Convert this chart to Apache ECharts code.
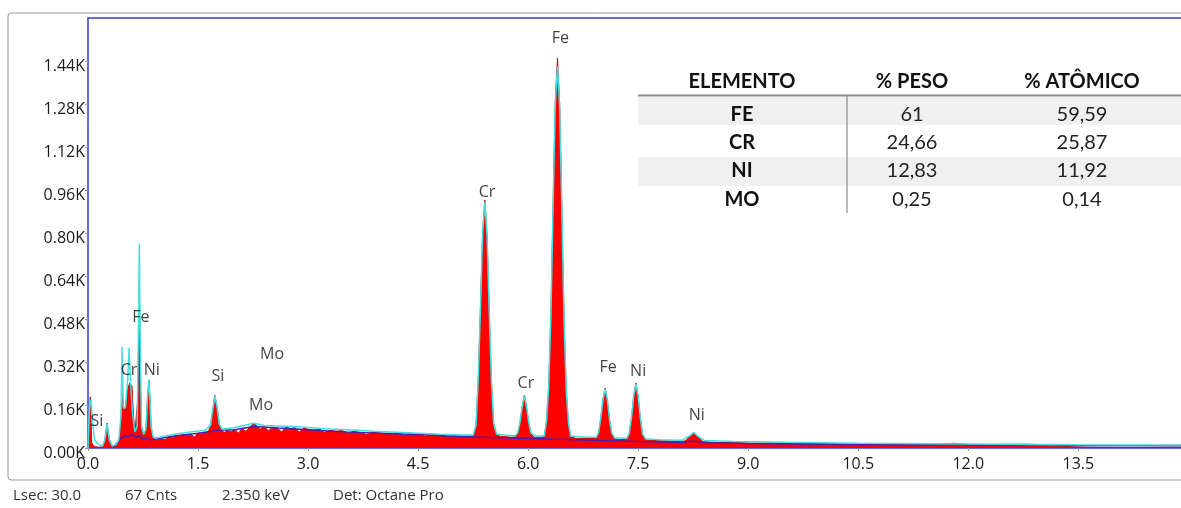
<!DOCTYPE html>
<html>
<head>
<meta charset="utf-8">
<script src="https://cdn.jsdelivr.net/npm/echarts@6/dist/echarts.min.js"></script>
<style>
  html, body { margin: 0; padding: 0; background: #fff; }
  #eds { width: 1181px; height: 508px; }
</style>
</head>
<body>
<div id="eds"></div>
<script>
// espectro EDS (keV, contagens)
var spectrum = [
  [0.00, 0], [0.02, 60], [0.03, 190], [0.04, 120], [0.05, 20], [0.07, 10], [0.10, 5], [0.15, 3],
  [0.20, 4], [0.23, 30], [0.26, 93], [0.29, 35], [0.32, 6], [0.36, 8], [0.40, 20], [0.43, 40],
  [0.45, 100], [0.465, 227], [0.48, 150], [0.51, 140], [0.54, 220], [0.57, 242], [0.60, 230],
  [0.62, 120], [0.64, 60], [0.66, 60], [0.685, 200], [0.70, 620], [0.715, 200], [0.73, 70],
  [0.76, 48], [0.79, 70], [0.81, 180], [0.83, 253], [0.845, 180], [0.86, 80], [0.89, 35], [0.93, 28],
  [1.00, 36], [1.05, 30], [1.10, 42], [1.15, 38], [1.20, 47], [1.25, 44], [1.30, 50], [1.35, 46],
  [1.40, 52], [1.45, 40], [1.50, 56], [1.55, 52], [1.60, 59], [1.64, 62], [1.67, 80], [1.70, 140],
  [1.73, 197], [1.76, 150], [1.79, 85], [1.82, 64], [1.86, 58], [1.90, 66], [1.95, 60], [2.00, 70],
  [2.05, 55], [2.10, 72], [2.15, 62], [2.20, 76], [2.26, 92], [2.30, 84], [2.35, 70], [2.40, 80],
  [2.46, 64], [2.52, 78], [2.58, 74], [2.64, 60], [2.70, 78], [2.76, 72], [2.82, 76], [2.88, 60],
  [2.94, 73], [3.00, 70], [3.08, 66], [3.15, 72], [3.22, 58], [3.30, 66], [3.38, 62], [3.46, 65],
  [3.55, 56], [3.62, 62], [3.70, 58], [3.80, 50], [3.90, 58], [4.00, 55], [4.10, 52], [4.20, 56],
  [4.30, 48], [4.40, 53], [4.50, 50], [4.60, 44], [4.70, 50], [4.80, 47], [4.90, 42], [5.00, 46],
  [5.10, 44], [5.20, 45], [5.26, 46], [5.29, 85], [5.32, 255], [5.35, 520], [5.38, 800], [5.41, 923],
  [5.44, 790], [5.47, 505], [5.50, 245], [5.53, 90], [5.56, 50], [5.62, 44], [5.70, 42], [5.78, 40],
  [5.83, 42], [5.86, 55], [5.89, 95], [5.92, 155], [5.95, 197], [5.98, 150], [6.01, 90], [6.04, 52],
  [6.08, 40], [6.15, 39], [6.22, 42], [6.25, 100], [6.28, 225], [6.31, 490], [6.34, 900], [6.37, 1290],
  [6.40, 1451], [6.43, 1280], [6.46, 880], [6.49, 470], [6.52, 210], [6.55, 90], [6.58, 42], [6.65, 36],
  [6.80, 35], [6.93, 36], [6.96, 55], [6.99, 110], [7.02, 180], [7.05, 223], [7.08, 178], [7.11, 105],
  [7.14, 52], [7.17, 34], [7.25, 31], [7.35, 33], [7.38, 55], [7.41, 115], [7.44, 195], [7.47, 242],
  [7.50, 190], [7.53, 110], [7.56, 50], [7.60, 30], [7.70, 28], [7.90, 26], [8.10, 25], [8.14, 26],
  [8.20, 42], [8.26, 56], [8.32, 40], [8.38, 24], [8.60, 20], [8.80, 22], [9.00, 18], [9.30, 19],
  [9.60, 16], [10.00, 17], [10.40, 14], [10.80, 15], [11.20, 12], [11.60, 13], [11.90, 14], [12.20, 11],
  [12.60, 10], [13.00, 8], [13.30, 6], [13.60, 3], [14.00, 2], [14.90, 2]
];

// curva ciano (contorno)
var fitLine = [
  [0.00, 0], [0.02, 150], [0.04, 178], [0.06, 100], [0.09, 30], [0.12, 20], [0.16, 10], [0.20, 8],
  [0.23, 30], [0.26, 90], [0.29, 30], [0.33, 8], [0.38, 12], [0.42, 30], [0.45, 120], [0.465, 376],
  [0.48, 150], [0.51, 150], [0.54, 250], [0.56, 372], [0.58, 240], [0.61, 120], [0.64, 60], [0.67, 80],
  [0.69, 500], [0.70, 760], [0.71, 420], [0.73, 80], [0.76, 50], [0.79, 70], [0.81, 180], [0.83, 255],
  [0.845, 180], [0.86, 80], [0.89, 40], [0.95, 38], [1.00, 42], [1.20, 52], [1.40, 60], [1.60, 66],
  [1.67, 85], [1.70, 140], [1.73, 195], [1.76, 150], [1.79, 88], [1.83, 70], [2.00, 76], [2.26, 92],
  [2.40, 84], [2.60, 82], [2.80, 80], [3.00, 76], [3.30, 71], [3.60, 67], [3.90, 62], [4.20, 59],
  [4.50, 55], [4.80, 51], [5.10, 48], [5.25, 48], [5.29, 85], [5.32, 255], [5.35, 520], [5.38, 800],
  [5.41, 915], [5.44, 790], [5.47, 505], [5.50, 245], [5.53, 92], [5.57, 52], [5.70, 47], [5.83, 46],
  [5.86, 58], [5.89, 97], [5.92, 155], [5.95, 195], [5.98, 150], [6.01, 92], [6.04, 55], [6.10, 45],
  [6.22, 45], [6.25, 100], [6.28, 225], [6.31, 490], [6.34, 900], [6.37, 1280], [6.40, 1420],
  [6.43, 1270], [6.46, 880], [6.49, 470], [6.52, 210], [6.55, 92], [6.58, 45], [6.80, 40], [6.93, 40],
  [6.96, 57], [6.99, 110], [7.02, 180], [7.05, 220], [7.08, 178], [7.11, 105], [7.14, 55], [7.18, 38],
  [7.30, 36], [7.35, 37], [7.38, 57], [7.41, 115], [7.44, 195], [7.47, 238], [7.50, 190], [7.53, 110],
  [7.56, 52], [7.60, 34], [7.80, 31], [8.10, 29], [8.20, 45], [8.26, 58], [8.32, 42], [8.40, 28],
  [8.80, 24], [9.50, 21], [10.50, 18], [11.50, 16], [12.50, 14], [13.50, 12], [14.90, 11]
];

// fundo (linha roxa)
var background = [
  [0.35, 5], [0.45, 35], [0.50, 45], [0.55, 42], [0.60, 50], [0.65, 40], [0.70, 45], [0.75, 33],
  [0.80, 36], [0.85, 30], [0.90, 32], [1.00, 36], [1.20, 46], [1.50, 55], [1.70, 62], [1.74, 66],
  [2.00, 68], [2.26, 80], [2.60, 74], [3.00, 68], [3.50, 60], [4.00, 55], [4.50, 50], [5.00, 44],
  [5.40, 40], [6.40, 33], [7.00, 28], [7.50, 24], [8.10, 21], [8.26, 26], [8.40, 20], [9.00, 17],
  [10.00, 14], [11.00, 12], [11.60, 13], [11.80, 17], [12.00, 12], [12.80, 13], [13.50, 9], [14.90, 8]
];

// rótulos dos picos [keV, contagens, elemento]
var peakLabels = [
  [6.44, 1525, 'Fe'], [5.44, 952, 'Cr'], [5.97, 242, 'Cr'], [7.09, 298, 'Fe'], [7.50, 286, 'Ni'],
  [8.30, 123, 'Ni'], [0.12, 97, 'Si'], [0.56, 290, 'Cr'], [0.72, 484, 'Fe'], [0.87, 290, 'Ni'],
  [1.77, 268, 'Si'], [2.51, 350, 'Mo'], [2.36, 160, 'Mo']
];

// tabela de composição
var tableHeader = ['ELEMENTO', '% PESO', '% ATÔMICO'];
var tableElements = ['FE', 'CR', 'NI', 'MO'];
var tablePeso = ['61', '24,66', '12,83', '0,25'];
var tableAtomico = ['59,59', '25,87', '11,92', '0,14'];

var footer = ['Lsec: 30.0', '67 Cnts', '2.350 keV', 'Det: Octane Pro'];

var uiFont = '"Open Sans", "DejaVu Sans", sans-serif';
var tableFont = 'Lato, "Open Sans", sans-serif';
var frameBlue = '#3c3cc8';

function buildTable() {
  var els = [];
  var colX = [742, 912, 1082];
  var rowY = [115, 143, 171, 200];
  // faixas cinza
  els.push({ type: 'rect', shape: { x: 638, y: 97, width: 560, height: 28 }, style: { fill: '#f0f0f0' }, silent: true });
  els.push({ type: 'rect', shape: { x: 638, y: 157, width: 560, height: 29 }, style: { fill: '#f0f0f0' }, silent: true });
  els.push({ type: 'line', shape: { x1: 638, y1: 95.5, x2: 1190, y2: 95.5 }, style: { stroke: '#8c8c8c', lineWidth: 2 } });
  els.push({ type: 'line', shape: { x1: 847, y1: 96, x2: 847, y2: 213 }, style: { stroke: '#777', lineWidth: 1 } });
  tableHeader.forEach(function (h, i) {
    els.push({ type: 'text', x: colX[i], y: 82,
      style: { text: h, align: 'center', verticalAlign: 'middle', font: 'bold 20px ' + tableFont, fill: '#111' } });
  });
  tableElements.forEach(function (el, r) {
    els.push({ type: 'text', x: colX[0], y: rowY[r],
      style: { text: el, align: 'center', verticalAlign: 'middle', font: 'bold 20px ' + tableFont, fill: '#111' } });
    els.push({ type: 'text', x: colX[1], y: rowY[r],
      style: { text: tablePeso[r], align: 'center', verticalAlign: 'middle', font: '20px ' + tableFont, fill: '#222' } });
    els.push({ type: 'text', x: colX[2], y: rowY[r],
      style: { text: tableAtomico[r], align: 'center', verticalAlign: 'middle', font: '20px ' + tableFont, fill: '#222' } });
  });
  return els;
}

function buildFooter() {
  var xs = [13, 125, 222, 333];
  return footer.map(function (t, i) {
    return { type: 'text', x: xs[i], y: 496,
      style: { text: t, align: 'left', verticalAlign: 'middle', font: '15px ' + uiFont, fill: '#333' } };
  });
}

var chart = echarts.init(document.getElementById('eds'), null, { renderer: 'canvas' });
var option = {
  animation: false,
  backgroundColor: '#fff',
  grid: { left: 88, top: 18, right: 0, bottom: 60, show: false },
  xAxis: [
    {
      type: 'value', min: 0, max: 14.9, interval: 1.5,
      axisLine: { show: true, lineStyle: { color: frameBlue, width: 1.5 } },
      axisTick: { show: true, length: 3, lineStyle: { color: '#999' } },
      splitLine: { show: false },
      axisLabel: { showMaxLabel: false, margin: 8, color: '#1a1a1a', fontSize: 16, fontFamily: uiFont,
        formatter: function (v) { return v.toFixed(1); } }
    },
    {
      // só a borda superior
      type: 'value', position: 'top', min: 0, max: 14.9,
      axisLine: { show: true, onZero: false, lineStyle: { color: frameBlue, width: 1.5 } },
      axisTick: { show: false }, axisLabel: { show: false }, splitLine: { show: false }
    }
  ],
  yAxis: {
    type: 'value', min: 0, max: 1600, interval: 160,
    axisLine: { show: true, lineStyle: { color: frameBlue, width: 1.5 } },
    axisTick: { show: true, length: 3, lineStyle: { color: '#999' } },
    splitLine: { show: false },
    axisLabel: { showMaxLabel: false, margin: 3, color: '#1a1a1a', fontSize: 16, fontFamily: uiFont,
      verticalAlign: 'top', lineHeight: 10,
      formatter: function (v) { return (v / 1000).toFixed(2) + 'K'; } }
  },
  series: [
    {
      type: 'line', data: spectrum, showSymbol: false, z: 2,
      lineStyle: { color: '#c01010', width: 1 },
      areaStyle: { color: '#ff0000', opacity: 1 }
    },
    {
      type: 'line', data: background, showSymbol: false, z: 3,
      lineStyle: { color: '#4a1cb0', width: 1.5 }
    },
    {
      type: 'line', data: fitLine, showSymbol: false, z: 4,
      lineStyle: { color: '#44dede', width: 1.5 }
    },
    {
      type: 'scatter', data: peakLabels, symbolSize: 1, z: 5,
      itemStyle: { color: 'rgba(0,0,0,0)' },
      label: { show: true, position: 'inside', color: '#111', fontSize: 16, fontFamily: uiFont,
        formatter: function (p) { return p.data[2]; } }
    }
  ],
  graphic: [
    { type: 'rect', shape: { x: 8, y: 13, width: 1200, height: 467, r: 3 }, style: { fill: 'none', stroke: '#9a9a9a', lineWidth: 1 }, silent: true }
  ].concat(buildTable()).concat(buildFooter())
};
chart.setOption(option);
</script>
</body>
</html>
